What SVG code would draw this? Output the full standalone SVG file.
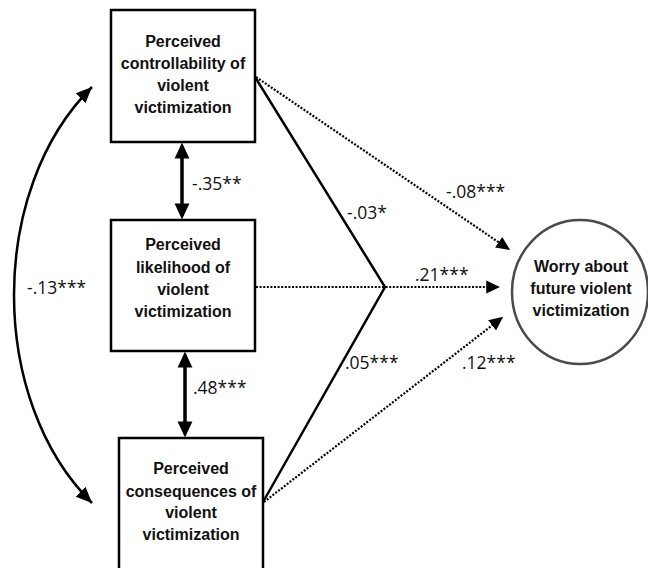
<svg xmlns="http://www.w3.org/2000/svg" width="648" height="568" viewBox="0 0 648 568">
<style>
.box{fill:#fff;stroke:#000;stroke-width:2.5}
.oval{fill:#fff;stroke:#4a4a4a;stroke-width:2.5}
.nt{font-family:"Liberation Sans",Arial,sans-serif;font-weight:bold;font-size:16px;fill:#111;text-anchor:middle}
.lb{font-family:"Open Sans","DejaVu Sans",sans-serif;font-size:17.5px;fill:#111}
.solid{fill:none;stroke:#000;stroke-width:2.5}
.dbl{fill:none;stroke:#000;stroke-width:3.5}
.dot{fill:none;stroke:#000;stroke-width:2.2;stroke-dasharray:2 1.6}
</style>
<defs>
<marker id="hb" markerUnits="userSpaceOnUse" markerWidth="16" markerHeight="16" viewBox="0 0 14 14" refX="11" refY="7" orient="auto-start-reverse"><path d="M0,0.5 L14,7 L0,13.5 z" fill="#000"/></marker>
<marker id="hc" markerUnits="userSpaceOnUse" markerWidth="16" markerHeight="16" viewBox="0 0 15 14" refX="15" refY="7" orient="auto-start-reverse"><path d="M0,0.5 L15,7 L0,13.5 z" fill="#000"/></marker>
<marker id="hd" markerUnits="userSpaceOnUse" markerWidth="14" markerHeight="14" viewBox="0 0 13 12" refX="10" refY="6" orient="auto"><path d="M0,0 L13,6 L0,12 z" fill="#000"/></marker>
</defs>
<g id="connectors">
<path class="dbl" d="M182 146 L182 216" marker-start="url(#hb)" marker-end="url(#hb)"/>
<path class="dbl" d="M185 355 L185 434" marker-start="url(#hb)" marker-end="url(#hb)"/>
<path class="solid" d="M92 87 C -12 190 -12 400 92 503" marker-start="url(#hc)" marker-end="url(#hc)"/>
<path class="solid" d="M255 77 L385 287 L263 502"/>
<path class="dot" d="M256 77 L507.5 248.3" marker-end="url(#hd)"/>
<path class="dot" d="M256 287 L497 287" marker-end="url(#hd)"/>
<path class="dot" d="M264 502 L500.6 318.8" marker-end="url(#hd)"/>
<text class="lb" x="192" y="190">-.35**</text>
<text class="lb" x="193" y="394">.48***</text>
<text class="lb" x="27" y="294">-.13***</text>
<text class="lb" x="347" y="219">-.03*</text>
<text class="lb" x="446" y="198">-.08***</text>
<text class="lb" x="415" y="281">.21***</text>
<text class="lb" x="345" y="369">.05***</text>
<text class="lb" x="462" y="369">.12***</text>
</g>
<g id="controllability">
<rect class="box" x="111" y="10" width="144" height="132"/>
<text class="nt" x="183" y="47">Perceived</text>
<text class="nt" x="183" y="69">controllability of</text>
<text class="nt" x="183" y="91">violent</text>
<text class="nt" x="183" y="113">victimization</text>
</g>
<g id="likelihood">
<rect class="box" x="111" y="220" width="144" height="131"/>
<text class="nt" x="183" y="250">Perceived</text>
<text class="nt" x="183" y="273">likelihood of</text>
<text class="nt" x="183" y="295">violent</text>
<text class="nt" x="183" y="317">victimization</text>
</g>
<g id="consequences">
<rect class="box" x="119" y="438" width="144" height="140"/>
<text class="nt" x="191" y="474">Perceived</text>
<text class="nt" x="191" y="497">consequences of</text>
<text class="nt" x="191" y="518">violent</text>
<text class="nt" x="191" y="540">victimization</text>
</g>
<g id="worry">
<ellipse class="oval" cx="580" cy="292" rx="68" ry="72"/>
<text class="nt" x="581" y="272">Worry about</text>
<text class="nt" x="581" y="294">future violent</text>
<text class="nt" x="581" y="316">victimization</text>
</g>
</svg>
